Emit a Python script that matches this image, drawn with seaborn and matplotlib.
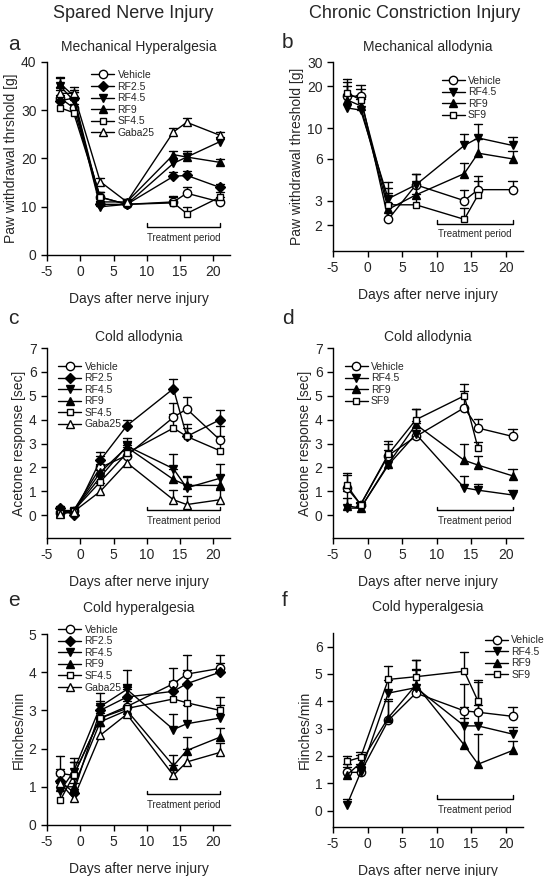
import numpy as np
import pandas as pd
import matplotlib
matplotlib.use("Agg")
import matplotlib.pyplot as plt
import matplotlib.transforms as mtrans
import seaborn as sns

sns.set_style("ticks")
plt.rcParams['font.family'] = ['Liberation Sans', 'DejaVu Sans']
plt.rcParams['axes.unicode_minus'] = False

days = [-3, -1, 3, 7, 14, 16, 21]
nan = np.nan

# Panel a
a_vehicle = [32.5, 30.5, 12.0, 10.5, 11.0, 12.8, 11.0]
a_rf25 = [32.0, 32.5, 10.5, 10.5, 16.3, 16.5, 14.0]
a_rf45 = [35.0, 32.0, 10.0, 10.5, 19.0, 20.3, 23.5]
a_rf9 = [35.5, 33.0, 11.0, 11.0, 20.8, 20.3, 19.2]
a_sf45 = [30.5, 29.5, 12.0, 10.5, 10.8, 8.6, 12.0]
a_gaba = [33.5, 33.5, 15.2, 11.0, 25.5, 27.5, 24.8]
a_err = [1.8, 1.8, 1.0, 1.0, 1.2, 1.3, 1.0]
# Panel b
b_vehicle = [17, 17, 2.2, 3.9, 3.0, 3.6, 3.6]
b_rf45 = [14, 13.5, 3.1, 3.9, 7.5, 8.5, 7.5]
b_rf9 = [16, 14.5, 2.6, 3.3, 4.7, 6.6, 6.0]
b_sf9 = [18, 16, 2.8, 2.8, 2.2, 3.3, nan]
b_err = [0.1, 0.08, 0.12, 0.08, 0.08, 0.1, 0.06]
# Panel c
c_vehicle = [0.1, 0.2, 2.0, 2.5, 4.1, 4.45, 3.15]
c_rf25 = [0.3, 0.0, 2.3, 3.75, 5.3, 3.3, 4.0]
c_rf45 = [0.2, 0.2, 1.6, 2.9, 1.95, 1.15, 1.55]
c_rf9 = [0.1, 0.2, 1.8, 2.85, 1.5, 1.25, 1.25]
c_sf45 = [0.1, 0.2, 1.4, 2.6, 3.65, 3.3, 2.7]
c_gaba = [0.05, 0.15, 1.0, 2.2, 0.65, 0.45, 0.65]
c_err = [0.1, 0.1, 0.5, 0.35, 0.6, 0.5, 0.6]
# Panel d
d_vehicle = [1.15, 0.45, 2.5, 3.3, 4.5, 3.65, 3.3]
d_rf45 = [0.3, 0.3, 2.1, 3.4, 1.15, 1.05, 0.85]
d_rf9 = [0.4, 0.3, 2.15, 3.8, 2.3, 2.1, 1.65]
d_sf9 = [1.25, 0.45, 2.55, 4.0, 5.0, 2.8, nan]
d_err = [0.6, 0.1, 0.6, 0.65, 0.7, 0.4, 0.3]
# Panel e
e_vehicle = [1.35, 1.3, 2.8, 3.1, 3.7, 3.95, 4.1]
e_rf25 = [1.15, 0.85, 3.0, 3.35, 3.5, 3.7, 4.0]
e_rf45 = [0.9, 1.4, 3.1, 3.55, 2.5, 2.65, 2.8]
e_rf9 = [1.0, 1.0, 2.7, 3.0, 1.55, 1.95, 2.3]
e_sf45 = [0.65, 1.3, 2.8, 3.05, 3.3, 3.2, 3.0]
e_gaba = [1.1, 0.7, 2.35, 2.9, 1.3, 1.65, 1.9]
e_err = [0.45, 0.35, 0.35, 0.5, 0.4, 0.5, 0.35]
# Panel f
f_vehicle = [1.4, 1.4, 3.3, 4.3, 3.65, 3.6, 3.45]
f_rf45 = [0.2, 1.4, 4.3, 4.5, 3.1, 3.1, 2.8]
f_rf9 = [1.3, 1.75, 3.4, 4.6, 2.4, 1.7, 2.2]
f_sf9 = [1.8, 1.95, 4.8, 4.9, 5.1, 4.0, nan]
f_err = [0.3, 0.3, 0.7, 0.9, 1.0, 1.1, 0.35]

styles = {
    "Vehicle": dict(marker="o", mfc="white", ms=6),
    "RF2.5": dict(marker="D", mfc="black", ms=5),
    "RF4.5": dict(marker="v", mfc="black", ms=6),
    "RF9": dict(marker="^", mfc="black", ms=6),
    "SF4.5": dict(marker="s", mfc="white", ms=5),
    "SF9": dict(marker="s", mfc="white", ms=5),
    "Gaba25": dict(marker="^", mfc="white", ms=6),
}

panels = [
    dict(letter="a", title="Mechanical Hyperalgesia", ylabel="Paw withdrawal thrshold [g]",
         series={"Vehicle": a_vehicle, "RF2.5": a_rf25, "RF4.5": a_rf45, "RF9": a_rf9,
                 "SF4.5": a_sf45, "Gaba25": a_gaba}, err=a_err, ylim=(0, 40),
         yticks=[0, 10, 20, 30, 40], log=False, leg=(0.22, 0.98), br=0.145, pad=8),
    dict(letter="b", title="Mechanical allodynia", ylabel="Paw withdrawal threshold [g]",
         series={"Vehicle": b_vehicle, "RF4.5": b_rf45, "RF9": b_rf9, "SF9": b_sf9},
         err=b_err, ylim=(1.3, 30), yticks=[2, 3, 6, 10, 20, 30], log=True,
         leg=(0.55, 0.95), br=0.145, pad=8),
    dict(letter="c", title="Cold allodynia", ylabel="Acetone response [sec]",
         series={"Vehicle": c_vehicle, "RF2.5": c_rf25, "RF4.5": c_rf45, "RF9": c_rf9,
                 "SF4.5": c_sf45, "Gaba25": c_gaba}, err=c_err, ylim=(-0.95, 7),
         yticks=list(range(8)), log=False, leg=(0.04, 0.95), br=0.145, pad=5),
    dict(letter="d", title="Cold allodynia", ylabel="Acetone response [sec]",
         series={"Vehicle": d_vehicle, "RF4.5": d_rf45, "RF9": d_rf9, "SF9": d_sf9},
         err=d_err, ylim=(-0.95, 7), yticks=list(range(8)), log=False,
         leg=(0.04, 0.95), br=0.145, pad=5),
    dict(letter="e", title="Cold hyperalgesia", ylabel="Flinches/min",
         series={"Vehicle": e_vehicle, "RF2.5": e_rf25, "RF4.5": e_rf45, "RF9": e_rf9,
                 "SF4.5": e_sf45, "Gaba25": e_gaba}, err=e_err, ylim=(0, 5),
         yticks=list(range(6)), log=False, leg=(0.04, 1.07), br=0.16, pad=16),
    dict(letter="f", title="Cold hyperalgesia", ylabel="Flinches/min",
         series={"Vehicle": f_vehicle, "RF4.5": f_rf45, "RF9": f_rf9, "SF9": f_sf9},
         err=f_err, ylim=(-0.6, 6.5), yticks=list(range(7)), log=False,
         leg=(0.78, 1.01), br=0.145, pad=16),
]

fig = plt.figure(figsize=(5.5, 8.76), dpi=100)
W, H = 550, 876
boxes = [(47, 62, 230, 255), (333, 62, 523, 251),
         (47, 348, 230, 538), (333, 348, 523, 538),
         (47, 634, 230, 825), (333, 633, 523, 827)]
letter_pos = [(8, 45), (282, 42), (8, 318), (282, 318), (8, 600), (282, 600)]

for p, (l, t, r, b), (lx, ly) in zip(panels, boxes, letter_pos):
    ax = fig.add_axes([l / W, 1 - b / H, (r - l) / W, (b - t) / H])
    rows = []
    for name, vals in p["series"].items():
        for d, v in zip(days, vals):
            rows.append(dict(group=name, day=d, value=v))
    df = pd.DataFrame(rows)
    for i, (name, vals) in enumerate(p["series"].items()):
        sub = df[df.group == name].dropna()
        st = styles[name]
        sns.lineplot(data=sub, x="day", y="value", ax=ax, color="black", lw=1,
                     marker=st["marker"], markersize=st["ms"], markerfacecolor=st["mfc"],
                     markeredgecolor="black", markeredgewidth=1, label=name, zorder=3)
        vv = np.array(vals, dtype=float)
        e = np.array(p["err"])
        if p["log"]:
            upper = vv * 10 ** e
        else:
            upper = vv + e * (1 if i % 2 == 0 else 0.7)
        for d, v, u in zip(days, vv, upper):
            if np.isnan(v):
                continue
            ax.plot([d, d], [v, u], color="black", lw=1, zorder=2)
            ax.plot([d - 0.6, d + 0.6], [u, u], color="black", lw=1, zorder=2)
    if p["log"]:
        ax.set_yscale("log")
        ax.set_yticks(p["yticks"])
        ax.set_yticklabels([str(v) for v in p["yticks"]])
        ax.yaxis.set_minor_locator(matplotlib.ticker.NullLocator())
    else:
        ax.set_yticks(p["yticks"])
    ax.set_ylim(*p["ylim"])
    ax.set_xlim(-5, 22.5)
    ax.set_xticks([-5, 0, 5, 10, 15, 20])
    ax.set_xlabel("Days after nerve injury", fontsize=10, labelpad=9)
    ax.set_ylabel(p["ylabel"], fontsize=10, labelpad=2)
    ax.tick_params(labelsize=10, length=4, width=1, color="black")
    for s in ["top", "right"]:
        ax.spines[s].set_visible(False)
    for s in ["left", "bottom"]:
        ax.spines[s].set_linewidth(1)
        ax.spines[s].set_color("black")
    ax.set_title(p["title"], fontsize=10, pad=p["pad"])
    tr = mtrans.blended_transform_factory(ax.transData, ax.transAxes)
    y0 = p["br"]
    ax.plot([10, 10, 21, 21], [y0 + 0.02, y0, y0, y0 + 0.02], color="black", lw=1,
            transform=tr, clip_on=False)
    ax.text(15.5, y0 - 0.03, "Treatment period", transform=tr, ha="center", va="top",
            fontsize=7)
    ax.legend(loc="upper left", bbox_to_anchor=p["leg"], frameon=False, fontsize=7.5,
              handlelength=2.2, labelspacing=0.15, handletextpad=0.3, borderaxespad=0)
    fig.text(lx / W, 1 - ly / H, p["letter"], fontsize=15, va="center")

fig.text(133 / W, 1 - 14 / H, "Spared Nerve Injury", fontsize=13, ha="center", va="center")
fig.text(415 / W, 1 - 14 / H, "Chronic Constriction Injury", fontsize=13, ha="center",
         va="center")
fig.savefig("out.png", dpi=100)
